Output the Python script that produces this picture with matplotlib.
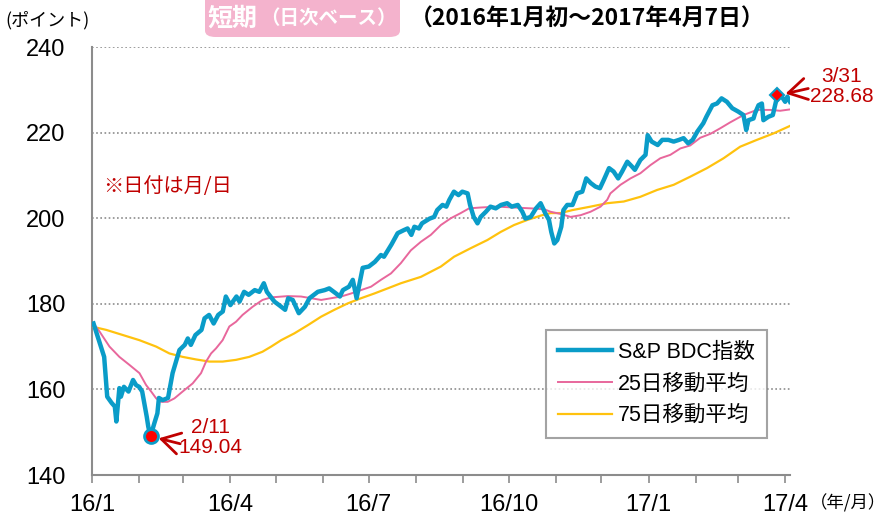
"""Short-term daily chart of the S&P BDC index with 25/75-day moving averages."""

import numpy as np
import matplotlib
matplotlib.use("Agg")
import matplotlib.pyplot as plt
from matplotlib.lines import Line2D
from matplotlib.patches import FancyBboxPatch

# Days are counted from 2016-01-01
BDC_DAYS = [1, 8, 10, 13, 15, 16, 18, 19, 21, 24, 27, 29, 31, 33, 36, 37, 38.5, 41, 43, 44,
            46.5, 50, 53, 57.5, 61, 63, 65, 68, 72, 74, 77, 80, 83, 86, 88, 91, 95, 97, 100,
            103, 107, 110, 113, 115, 120, 123, 127, 129, 132, 136, 140, 143, 148.5, 153, 156,
            160.5, 163, 165, 169, 171.5, 174, 178, 182, 186, 190, 192, 197, 201, 205, 207.5,
            210, 212, 215, 217, 222, 225, 227, 230.5, 233, 235, 238, 241, 243.5, 247, 248.6,
            251, 253.5, 255.6, 259, 262, 265.5, 269, 273, 276, 280, 283, 285, 288.5, 292, 295,
            298, 300.5, 302, 304, 306, 308.6, 310, 312.5, 316, 319, 322.4, 325, 328, 331, 334,
            336.5, 340, 343, 346, 348.6, 352, 355, 357, 360.6, 364, 365.4, 368, 372, 375, 379,
            382.5, 386, 389, 392, 395, 398, 402, 404, 408, 411, 414, 417.5, 421, 425, 428.4,
            430.2, 431.7, 435, 436, 438.3, 440.5, 441.5, 444.8, 447.7, 450.7, 453.6, 455.8,
            457.3, 459]
BDC_VALUES = [175.4, 167.6, 158.3, 156.8, 156.0, 152.5, 160.3, 158.3, 160.6, 159.5, 162.2,
              161.0, 160.6, 159.5, 153.6, 151.3, 149.04, 152.1, 154.4, 158.0, 157.5, 158.0,
              163.8, 169.2, 170.4, 171.9, 170.4, 172.7, 173.9, 176.6, 177.4, 175.4, 177.4,
              178.2, 181.7, 179.7, 181.7, 180.5, 182.8, 182.1, 183.2, 182.8, 184.8, 182.8,
              180.5, 179.7, 178.6, 181.3, 180.9, 177.8, 179.3, 181.3, 182.8, 183.2, 183.6,
              182.4, 181.7, 183.2, 184.0, 185.6, 181.3, 188.4, 188.7, 189.8, 191.4, 191.0,
              193.9, 196.5, 197.2, 197.6, 196.1, 198.0, 197.6, 198.8, 199.9, 200.3, 201.9,
              203.1, 202.7, 204.3, 206.2, 205.4, 206.2, 205.8, 203.1, 200.3, 198.8, 200.3,
              201.5, 202.7, 202.3, 203.1, 203.5, 202.7, 203.1, 201.5, 199.9, 200.3, 202.3,
              203.5, 201.2, 199.6, 196.8, 194.1, 194.9, 198.0, 201.9, 203.1, 203.1, 205.8,
              206.2, 209.3, 208.2, 207.4, 207.0, 208.9, 211.7, 210.9, 209.3, 210.9, 213.2,
              212.1, 211.3, 213.6, 214.8, 219.4, 217.9, 217.1, 218.3, 218.3, 217.9, 218.3,
              218.7, 217.5, 218.3, 220.2, 222.2, 223.7, 226.4, 226.8, 228.0, 227.2, 225.7,
              224.9, 224.1, 220.6, 222.9, 223.3, 224.5, 226.4, 226.8, 222.9, 223.7, 224.1,
              228.68, 228.4, 227.2, 228.4, 227.2]

MA25_DAYS = [1, 5, 11.5, 18, 24.7, 31.2, 35.6, 38.9, 42.2, 45.5, 49.8, 54.2, 59.6, 66.2, 71.7,
             75, 78.3, 81.6, 85.9, 90.3, 94.7, 99, 105.6, 112.1, 117.8, 128.8, 137.5, 144.1,
             150.7, 157.2, 163.8, 170.3, 176.9, 183.5, 190, 196.6, 203.1, 209.7, 216.3, 222.8,
             229.4, 236, 242.5, 248, 255.6, 266.6, 277.5, 288.5, 297.2, 301.6, 308.1, 314.7,
             321.3, 327.8, 334.4, 338.8, 340.9, 347.5, 354.1, 360.6, 367.2, 373.7, 380.3, 386.9,
             393.4, 400, 406.6, 413.1, 419.7, 428.4, 437.2, 445.9, 452.5, 458.6]
MA25_VALUES = [175.4, 173.5, 170.0, 167.6, 165.7, 163.8, 161.0, 159.5, 157.9, 157.1, 157.1,
               157.9, 159.5, 161.4, 163.8, 166.5, 168.4, 169.6, 171.5, 174.7, 175.8, 177.4,
               179.3, 180.9, 181.5, 181.8, 181.7, 181.3, 180.9, 181.3, 181.7, 182.4, 183.2,
               184.0, 185.6, 187.1, 189.5, 192.5, 194.5, 196.1, 198.4, 200.0, 201.2, 202.3,
               202.5, 202.7, 202.5, 202.3, 202.1, 201.5, 201.0, 200.3, 200.7, 201.5, 202.7,
               204.3, 205.8, 207.8, 209.3, 210.5, 212.4, 214.0, 214.8, 216.3, 217.0, 218.8,
               219.7, 221.0, 222.4, 224.1, 225.3, 225.3, 225.1, 225.4]

MA75_DAYS = [1, 9.4, 20.3, 31.2, 42.2, 50.9, 59.6, 68.4, 77.2, 85.9, 94.7, 103.4, 112.1, 117.8,
             124.4, 133.1, 141.9, 150.7, 159.4, 168.2, 176.9, 185.6, 194.4, 203.1, 216.3,
             229.4, 238.1, 249.1, 260, 268.8, 277.5, 286.3, 295, 301.6, 308.1, 316, 327.8,
             338.8, 349.7, 360.6, 371.6, 382.5, 393.4, 404.4, 415.3, 426.2, 437.2, 448.1, 458.6]
MA75_VALUES = [174.6, 173.9, 172.7, 171.5, 170.0, 168.4, 167.6, 167.0, 166.5, 166.5, 166.9,
               167.6, 168.8, 170.0, 171.5, 173.1, 175.0, 177.0, 178.6, 180.1, 181.3, 182.4,
               183.6, 184.8, 186.3, 188.7, 191.0, 193.0, 194.9, 196.8, 198.4, 199.6, 200.6,
               201.2, 201.2, 201.9, 202.7, 203.5, 203.9, 205.0, 206.6, 207.8, 209.7, 211.7,
               214.0, 216.7, 218.3, 219.8, 221.5]

TICK_LABELS = ["16/1", "16/4", "16/7", "16/10", "17/1", "17/4"]
LOW_LABEL = "2/11\n149.04"
HIGH_LABEL = "3/31\n228.68"

BLUE = "#0a9cc8"
PINK = "#e8679c"
YELLOW = "#ffc20e"
RED = "#c00000"
GRAY = "#8c8c8c"

plt.rcParams["font.family"] = ["Liberation Sans", "Noto Sans CJK JP"]
JP = ["Noto Sans CJK JP", "Liberation Sans"]

fig = plt.figure(figsize=(8.93, 5.27), dpi=100)
ax = fig.add_axes([92 / 893, 1 - 475 / 527, 698 / 893, 428 / 527])

# Lines
ax.plot(MA75_DAYS, MA75_VALUES, color=YELLOW, lw=1.6, zorder=3)
ax.plot(MA25_DAYS, MA25_VALUES, color=PINK, lw=1.4, zorder=4)
ax.plot(BDC_DAYS, BDC_VALUES, color=BLUE, lw=3.2, zorder=5, solid_joinstyle="round")

# Low / high markers
low_i = int(np.argmin(BDC_VALUES))
high_i = int(np.argmax(BDC_VALUES))
ax.plot(BDC_DAYS[low_i], BDC_VALUES[low_i], "o", ms=10, mfc="red", mec=BLUE, mew=2, zorder=6)
ax.plot(BDC_DAYS[high_i], BDC_VALUES[high_i], "D", ms=7, mfc="red", mec=BLUE, mew=1.5, zorder=6)

arrow = dict(arrowstyle="->,head_length=0.6,head_width=0.35", color=RED, lw=2,
             mutation_scale=22, shrinkA=0, shrinkB=6)
ax.annotate("", xy=(BDC_DAYS[low_i], BDC_VALUES[low_i]), xytext=(58, 147.3),
            arrowprops=arrow, zorder=7)
ax.text(78, 148.7, LOW_LABEL, color=RED, fontsize=15, ha="center", va="center",
        linespacing=1.05)
ax.annotate("", xy=(BDC_DAYS[high_i], BDC_VALUES[high_i]), xytext=(471, 230.3),
            arrowprops=arrow, zorder=7, annotation_clip=False)
ax.text(493, 230.7, HIGH_LABEL, color=RED, fontsize=15, ha="center", va="center",
        linespacing=1.05, clip_on=False)

# Axes styling
ax.set_xlim(0, 459)
ax.set_ylim(140, 240)
month_starts = np.arange(np.datetime64("2016-01"), np.datetime64("2017-05"))
month_days = (month_starts.astype("datetime64[D]") - np.datetime64("2016-01-01")).astype(int)
ax.set_xticks(month_days[::3])
ax.set_xticklabels(TICK_LABELS)
ax.set_xticks(month_days, minor=True)
ax.set_yticks([140, 160, 180, 200, 220, 240])
ax.tick_params(axis="x", which="both", length=6, width=1.2, color=GRAY, labelsize=17, pad=8)
ax.tick_params(axis="y", length=0, labelsize=17, pad=19)
for side in ("top", "right"):
    ax.spines[side].set_visible(False)
for side in ("left", "bottom"):
    ax.spines[side].set_color(GRAY)
    ax.spines[side].set_linewidth(1.5)
for y in [160, 180, 200, 220, 240]:
    ax.axhline(y, color=GRAY, lw=1.2, ls=(0, (1, 1.5)), zorder=1)

# Legend
handles = [Line2D([0], [0], color=BLUE, lw=3.2),
           Line2D([0], [0], color=PINK, lw=1.4),
           Line2D([0], [0], color=YELLOW, lw=1.6)]
leg = ax.legend(handles, ["S&P BDC指数", "25日移動平均", "75日移動平均"],
                loc="lower right", bbox_to_anchor=(0.967, 0.0864), frameon=True, fancybox=False,
                edgecolor=GRAY, handlelength=2.5, handletextpad=0.3, labelspacing=0.5,
                borderpad=0.55, borderaxespad=0, prop={"size": 15.5})
leg.get_frame().set_linewidth(1.5)

# Texts
fig.text(5 / 893, 1 - 20 / 527, "(ポイント)", fontsize=13, family=JP, va="center", ha="left")
fig.text(103 / 893, 1 - 186 / 527, "※日付は月/日", fontsize=14.5, family=JP, color=RED,
         va="center", ha="left")
fig.text(810 / 893, 1 - 503 / 527, "（年/月）", fontsize=12.5, family=JP, va="center", ha="left")

box = FancyBboxPatch((205 / 893, 1 - 37 / 527), 195 / 893, 45 / 527,
                     boxstyle="round,pad=0,rounding_size=0.012", transform=fig.transFigure,
                     facecolor="#f4b3cd", edgecolor="none")
fig.patches.append(box)
fig.text(208 / 893, 1 - 19 / 527, "短期", fontsize=18, weight="bold", color="white",
         family=JP, va="center", ha="left")
fig.text(260 / 893, 1 - 19 / 527, "（日次ベース）", fontsize=14, weight="bold", color="white",
         family=JP, va="center", ha="left")
fig.text(410 / 893, 1 - 19 / 527, "（2016年1月初～2017年4月7日）", fontsize=16.5, weight="bold",
         family=JP, va="center", ha="left")

fig.savefig("out.png", dpi=100)
